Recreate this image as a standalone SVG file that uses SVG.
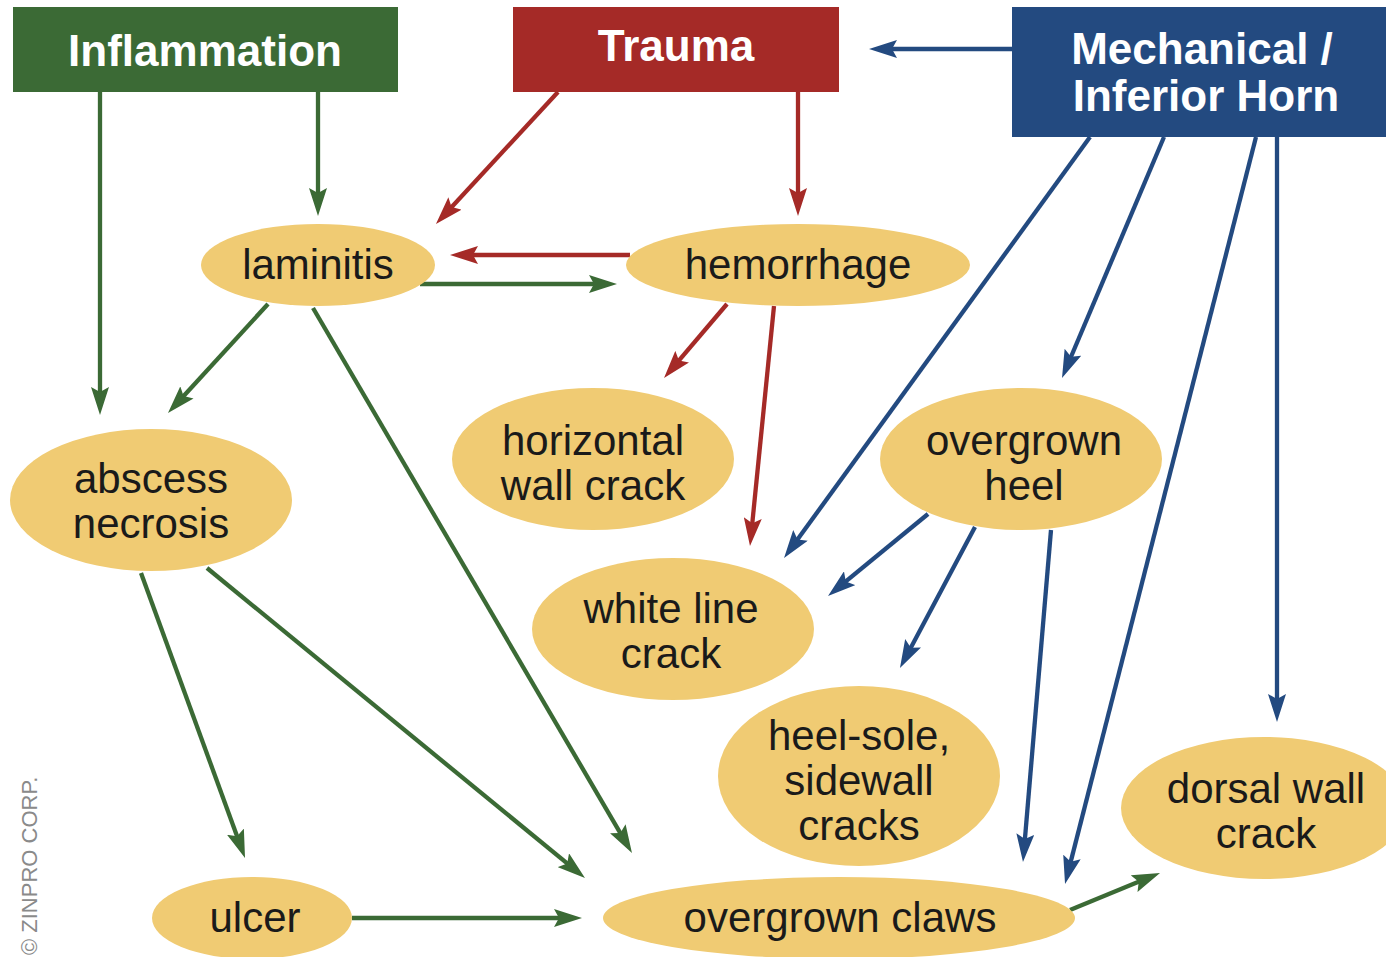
<svg xmlns="http://www.w3.org/2000/svg" width="1386" height="957" viewBox="0 0 1386 957">
<style>
.hdr{font-family:"Liberation Sans",Arial,sans-serif;font-weight:bold;font-size:44px;fill:#ffffff;text-anchor:middle}
.lbl{font-family:"Liberation Sans",Arial,sans-serif;font-size:42px;fill:#1a1a1a;text-anchor:middle}
.ell{fill:#f0cb73}
.g{stroke:#3b6a35;stroke-width:4.3;fill:none;marker-end:url(#ag)}
.r{stroke:#a52a27;stroke-width:4.3;fill:none;marker-end:url(#ar)}
.b{stroke:#234a80;stroke-width:4.3;fill:none;marker-end:url(#ab)}
.copy{font-family:"Liberation Sans",Arial,sans-serif;font-size:22px;fill:#8a8a8a}
</style>
<defs>
<marker id="ag" viewBox="0 0 28 18" refX="16" refY="9" markerWidth="28" markerHeight="18" markerUnits="userSpaceOnUse" orient="auto"><path d="M0,0 L28,9 L0,18 L5,9 Z" fill="#3b6a35"/></marker>
<marker id="ar" viewBox="0 0 28 18" refX="16" refY="9" markerWidth="28" markerHeight="18" markerUnits="userSpaceOnUse" orient="auto"><path d="M0,0 L28,9 L0,18 L5,9 Z" fill="#a52a27"/></marker>
<marker id="ab" viewBox="0 0 28 18" refX="16" refY="9" markerWidth="28" markerHeight="18" markerUnits="userSpaceOnUse" orient="auto"><path d="M0,0 L28,9 L0,18 L5,9 Z" fill="#234a80"/></marker>
</defs>
<rect width="1386" height="957" fill="#ffffff"/>
<g id="connectors">
<line class="g" x1="100" y1="92" x2="100" y2="403"/>
<line class="g" x1="318" y1="92" x2="318" y2="204"/>
<line class="g" x1="420" y1="284" x2="605" y2="284"/>
<line class="g" x1="268" y1="304" x2="176.1" y2="404.2"/>
<line class="g" x1="313" y1="308" x2="625.9" y2="842.6"/>
<line class="g" x1="141" y1="573" x2="240.9" y2="846.7"/>
<line class="g" x1="207" y1="568" x2="575.7" y2="870.4"/>
<line class="g" x1="352" y1="918" x2="570" y2="918"/>
<line class="g" x1="1070" y1="910" x2="1148.9" y2="877.6"/>
<line class="r" x1="558" y1="92" x2="444.1" y2="215.2"/>
<line class="r" x1="798" y1="92" x2="798" y2="204"/>
<line class="r" x1="630" y1="255" x2="462" y2="255"/>
<line class="r" x1="727" y1="304" x2="671.8" y2="368.9"/>
<line class="r" x1="774" y1="306" x2="751.2" y2="534.1"/>
<line class="b" x1="1012" y1="49" x2="881" y2="49"/>
<line class="b" x1="1090" y1="137" x2="791.1" y2="548.3"/>
<line class="b" x1="1164" y1="137" x2="1066.7" y2="367"/>
<line class="b" x1="1256" y1="137" x2="1068" y2="872.4"/>
<line class="b" x1="1277" y1="137" x2="1277" y2="710"/>
<line class="b" x1="928" y1="514" x2="837.3" y2="588.4"/>
<line class="b" x1="975" y1="527" x2="905.6" y2="657.4"/>
<line class="b" x1="1051" y1="530" x2="1024" y2="850"/>
</g>
<g id="inflammation"><rect x="13" y="7" width="385" height="85" fill="#3b6a35"/><text class="hdr" x="205" y="66">Inflammation</text></g>
<g id="trauma"><rect x="513" y="7" width="326" height="85" fill="#a52a27"/><text class="hdr" x="676" y="61">Trauma</text></g>
<g id="mechanical"><rect x="1012" y="7" width="374" height="130" fill="#234a80"/><text class="hdr" x="1202" y="64">Mechanical /</text><text class="hdr" x="1206" y="111">Inferior Horn</text></g>
<g id="laminitis"><ellipse class="ell" cx="318" cy="265" rx="117" ry="41"/><text class="lbl" x="318" y="279">laminitis</text></g>
<g id="hemorrhage"><ellipse class="ell" cx="798" cy="265" rx="172" ry="41"/><text class="lbl" x="798" y="279">hemorrhage</text></g>
<g id="abscess-necrosis"><ellipse class="ell" cx="151" cy="500" rx="141" ry="71"/><text class="lbl" x="151" y="493">abscess</text><text class="lbl" x="151" y="538">necrosis</text></g>
<g id="horizontal-wall-crack"><ellipse class="ell" cx="593" cy="459" rx="141" ry="71"/><text class="lbl" x="593" y="455">horizontal</text><text class="lbl" x="593" y="500">wall crack</text></g>
<g id="overgrown-heel"><ellipse class="ell" cx="1021" cy="459" rx="141" ry="71"/><text class="lbl" x="1024" y="455">overgrown</text><text class="lbl" x="1024" y="500">heel</text></g>
<g id="white-line-crack"><ellipse class="ell" cx="673" cy="629" rx="141" ry="71"/><text class="lbl" x="671" y="623">white line</text><text class="lbl" x="671" y="668">crack</text></g>
<g id="heel-sole-sidewall-cracks"><ellipse class="ell" cx="859" cy="776" rx="141" ry="90"/><text class="lbl" x="859" y="750">heel-sole,</text><text class="lbl" x="859" y="795">sidewall</text><text class="lbl" x="859" y="840">cracks</text></g>
<g id="dorsal-wall-crack"><ellipse class="ell" cx="1264" cy="808" rx="143" ry="71"/><text class="lbl" x="1266" y="803">dorsal wall</text><text class="lbl" x="1266" y="848">crack</text></g>
<g id="ulcer"><ellipse class="ell" cx="252" cy="918" rx="100" ry="41"/><text class="lbl" x="255" y="932">ulcer</text></g>
<g id="overgrown-claws"><ellipse class="ell" cx="839" cy="918" rx="236" ry="41"/><text class="lbl" x="840" y="932">overgrown claws</text></g>
<text class="copy" transform="translate(37,955) rotate(-90)">© ZINPRO CORP.</text>
</svg>
